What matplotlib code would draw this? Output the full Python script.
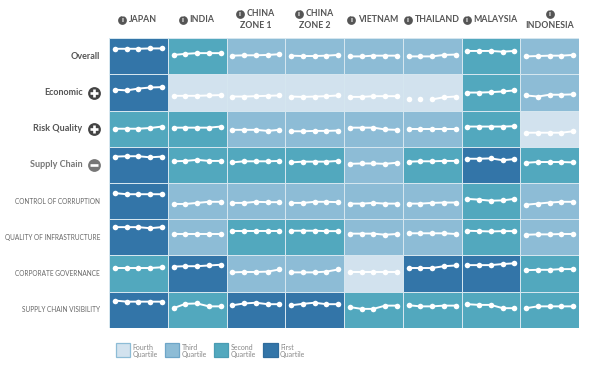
import matplotlib
matplotlib.use('Agg')
import matplotlib.pyplot as plt
from matplotlib.colors import ListedColormap
from matplotlib.patches import Rectangle
import numpy as np

plt.rcParams['font.family'] = ['Lato', 'Liberation Sans', 'DejaVu Sans']

COUNTRIES = [['JAPAN'], ['INDIA'], ['CHINA', 'ZONE 1'], ['CHINA', 'ZONE 2'],
             ['VIETNAM'], ['THAILAND'], ['MALAYSIA'], ['', 'INDONESIA']]
BOLD_ROWS = ['Overall', 'Economic', 'Risk Quality', 'Supply Chain']
THIN_ROWS = ['CONTROL OF CORRUPTION', 'QUALITY OF INFRASTRUCTURE',
             'CORPORATE GOVERNANCE', 'SUPPLY CHAIN VISIBILITY']
LEGEND_LABELS = ['Fourth', 'Third', 'Second', 'First']

# 1 = first quartile ... 4 = fourth quartile
quartiles = [
    [1, 2, 3, 3, 3, 3, 2, 3],
    [1, 4, 4, 4, 4, 4, 2, 3],
    [2, 2, 3, 3, 3, 3, 2, 4],
    [1, 2, 2, 2, 3, 2, 1, 2],
    [1, 3, 3, 3, 3, 3, 2, 3],
    [1, 3, 2, 2, 3, 3, 2, 3],
    [2, 1, 3, 3, 4, 1, 1, 2],
    [1, 2, 1, 1, 2, 2, 2, 2],
]

# five readings per cell, height inside the cell in percent
overall = [[71, 71, 71, 72, 72], [54, 57, 59, 59, 59], [52, 53, 53, 54, 56], [52, 51, 51, 52, 54],
           [50, 50, 52, 52, 52], [50, 50, 50, 54, 55], [65, 65, 65, 63, 65], [50, 51, 52, 52, 54]]
economic = [[58, 56, 61, 64, 65], [41, 41, 41, 42, 43], [39, 39, 40, 41, 42], [39, 38, 39, 40, 42],
            [38, 38, 40, 40, 40], [31, 31, 31, 37, 39], [50, 50, 51, 53, 56], [42, 39, 44, 44, 45]]
risk_quality = [[50, 50, 50, 52, 56], [53, 53, 53, 53, 56], [47, 47, 47, 44, 47], [43, 43, 44, 44, 45],
                [53, 53, 53, 48, 47], [49, 49, 49, 49, 49], [56, 56, 56, 56, 57], [39, 39, 39, 39, 43]]
supply_chain = [[73, 74, 74, 71, 73], [60, 61, 64, 61, 61], [57, 60, 60, 60, 61], [57, 59, 59, 59, 61],
                [53, 54, 54, 53, 56], [59, 60, 60, 61, 61], [67, 67, 68, 63, 66], [56, 58, 58, 58, 57]]
corruption = [[72, 69, 69, 69, 69], [42, 42, 45, 48, 48], [45, 45, 48, 47, 47], [45, 45, 48, 48, 47],
              [43, 43, 45, 43, 43], [43, 43, 45, 46, 46], [56, 54, 51, 52, 56], [40, 43, 46, 48, 48]]
infrastructure = [[78, 78, 78, 75, 78], [60, 60, 60, 60, 60], [68, 68, 68, 68, 68], [68, 68, 68, 67, 67],
                  [60, 60, 60, 57, 59], [61, 61, 61, 61, 59], [68, 67, 66, 67, 67], [57, 58, 58, 59, 59]]
governance = [[65, 65, 65, 65, 67], [69, 70, 70, 72, 74], [53, 54, 54, 55, 61], [53, 53, 53, 55, 61],
              [53, 53, 53, 53, 53], [65, 65, 65, 70, 72], [73, 73, 73, 76, 78], [59, 60, 60, 62, 62]]
visibility = [[75, 72, 72, 72, 72], [54, 66, 67, 59, 59], [62, 67, 69, 65, 65], [62, 66, 69, 65, 65],
              [57, 52, 52, 61, 61], [62, 59, 59, 61, 61], [65, 63, 63, 54, 54], [54, 59, 59, 59, 59]]
rows = [overall, economic, risk_quality, supply_chain, corruption, infrastructure, governance, visibility]

# Thailand / Economic: the first three points are not joined
unjoined = {(1, 5): 2}

W, H = 590, 368
Q_COLORS = ['#3375a8', '#52a8be', '#8dbcd6', '#d2e2ee']
EDGE = '#d5e6ef'
GRID_L, GRID_R, GRID_T, GRID_B = 109, 579, 38.3, 327.7

fig = plt.figure(figsize=(W / 100, H / 100), dpi=100)
ax = fig.add_axes([GRID_L / W, 1 - GRID_B / H, (GRID_R - GRID_L) / W, (GRID_B - GRID_T) / H])
cmap = ListedColormap(Q_COLORS)
ax.pcolormesh(np.arange(9), np.arange(9), np.array(quartiles), cmap=cmap, vmin=0.5, vmax=4.5,
              edgecolors=EDGE, linewidth=0.55)
ax.set_xlim(0, 8)
ax.set_ylim(8, 0)
ax.axis('off')

xs = 0.1 + 0.2 * np.arange(5)
for r, row in enumerate(rows):
    for c, vals in enumerate(row):
        x = c + xs
        y = r + 1 - np.array(vals) / 100
        start = unjoined.get((r, c), 0)
        ax.plot(x[start:], y[start:], color='white', lw=1.4, solid_capstyle='round', zorder=3)
        ax.scatter(x, y, s=16, color='white', linewidths=0, zorder=4)

# overlay in picture pixels for labels, icons and the legend
ov = fig.add_axes([0, 0, 1, 1], facecolor='none')
ov.set_xlim(0, W)
ov.set_ylim(H, 0)
ov.axis('off')
renderer = fig.canvas.get_renderer()

HEAD = '#555555'
HEAD_SIZE = 6.3


def info_icon(x, y):
    ov.scatter([x], [y], s=40, color=HEAD, linewidths=0, zorder=5)
    ov.text(x, y + 0.2, 'i', color='white', fontsize=5.5, fontweight='bold', ha='center', va='center', zorder=6)


col_w = (GRID_R - GRID_L) / 8
for c, lines in enumerate(COUNTRIES):
    cx = GRID_L + col_w * (c + 0.5)
    if len(lines) == 1:
        t = ov.text(cx + 5, 19.5, lines[0], color=HEAD, fontsize=HEAD_SIZE, fontweight='bold', ha='center', va='center')
        w = t.get_window_extent(renderer).width
        info_icon(cx + 5 - w / 2 - 7, 19.5)
    else:
        if lines[0]:
            t = ov.text(cx + 5, 13.7, lines[0], color=HEAD, fontsize=HEAD_SIZE, fontweight='bold', ha='center', va='center')
            w = t.get_window_extent(renderer).width
            info_icon(cx + 5 - w / 2 - 7, 13.7)
        else:
            info_icon(cx, 13.7)
        ov.text(cx, 25.5, lines[1], color=HEAD, fontsize=HEAD_SIZE, fontweight='bold', ha='center', va='center')

row_h = (GRID_B - GRID_T) / 8
label_colors = ['#555555', '#555555', '#555555', '#777777']
for i, name in enumerate(BOLD_ROWS):
    y = GRID_T + row_h * (i + 0.5)
    right = 100 if i == 0 else 82.5
    ov.text(right, y, name, color=label_colors[i], fontsize=6.5, fontweight='bold', ha='right', va='center')
    if i > 0:
        ov.scatter([94], [y], s=85, color=label_colors[i] if i == 3 else '#444444', linewidths=0, zorder=5)
        ov.scatter([94], [y], s=38, marker='_' if i == 3 else '+', color='white', linewidths=1.9, zorder=6)
for i, name in enumerate(THIN_ROWS):
    y = GRID_T + row_h * (i + 4.5)
    ov.text(100, y, name, color='#666666', fontsize=4.7, ha='right', va='center')

# legend
swatch_x = [115.5, 164.5, 213.5, 263]
swatch_colors = Q_COLORS[::-1]
swatch_edges = ['#8dbcd6', '#6ea6c8', '#4a9cb3', '#2f6c9c']
for x, col, edge, name in zip(swatch_x, swatch_colors, swatch_edges, LEGEND_LABELS):
    ov.add_patch(Rectangle((x, 342.5), 14.5, 14.5, facecolor=col, edgecolor=edge, linewidth=0.9))
    ov.text(x + 17, 347.8, name, color='#888888', fontsize=5, ha='left', va='center')
    ov.text(x + 17, 355, 'Quartile', color='#888888', fontsize=5, ha='left', va='center')

fig.savefig('out.png', dpi=100)
